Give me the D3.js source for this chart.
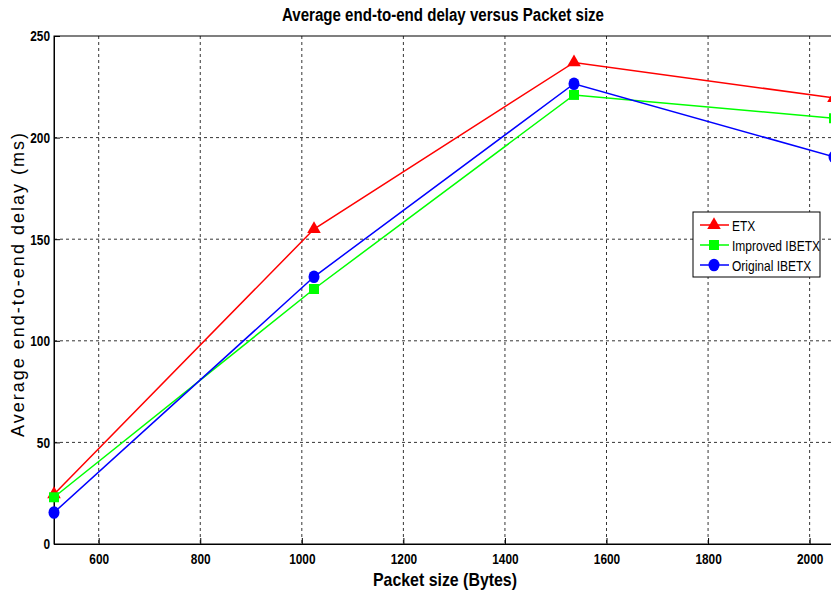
<!DOCTYPE html>
<html>
<head>
<meta charset="utf-8">
<script src="https://cdn.jsdelivr.net/npm/d3@7"></script>
<style>
  body { margin: 0; background: #fff; }
  text { font-family: "Liberation Sans", Arial, sans-serif; }
</style>
</head>
<body>
<svg id="chart" width="831" height="594"></svg>
<script>
var packetSizes = [512, 1024, 1536, 2048];
var etx = [24.5, 155, 237, 219.5];
var improvedIbetx = [23, 125.5, 221, 209.5];
var originalIbetx = [15.5, 131.5, 226.5, 190.5];
var xTicks = [600, 800, 1000, 1200, 1400, 1600, 1800, 2000];
var yTicks = [0, 50, 100, 150, 200, 250];

var series = [
    {name: "ETX", values: etx, color: "#ff0000", marker: "triangle"},
    {name: "Improved IBETX", values: improvedIbetx, color: "#00ff00", marker: "square"},
    {name: "Original IBETX", values: originalIbetx, color: "#0000ff", marker: "circle"}
];

var svg = d3.select("#chart");
var margin = {left: 54, top: 36, right: -3, bottom: 50};
var width = 831 - margin.left - margin.right,
    height = 594 - margin.top - margin.bottom;

var x = d3.scaleLinear().domain([512, 2048]).range([0, width]);
var y = d3.scaleLinear().domain([0, 250]).range([height, 0]);

// squeeze text to look like a condensed face
function narrow(sel, factor) {
    sel.each(function () {
        var len = this.getComputedTextLength();
        d3.select(this)
            .attr("textLength", len * factor)
            .attr("lengthAdjust", "spacingAndGlyphs");
    });
}

var g = svg.append("g")
    .attr("transform", "translate(" + margin.left + "," + margin.top + ")");

// grid
g.append("g").selectAll("line")
    .data(xTicks)
    .enter().append("line")
    .attr("x1", function (d) { return x(d); })
    .attr("x2", function (d) { return x(d); })
    .attr("y1", 0)
    .attr("y2", height)
    .attr("stroke", "#000")
    .attr("stroke-width", 0.8)
    .attr("stroke-dasharray", "3,3");

g.append("g").selectAll("line")
    .data(yTicks.slice(1, -1))
    .enter().append("line")
    .attr("x1", 0)
    .attr("x2", width)
    .attr("y1", function (d) { return y(d); })
    .attr("y2", function (d) { return y(d); })
    .attr("stroke", "#000")
    .attr("stroke-width", 0.8)
    .attr("stroke-dasharray", "3,3");

// box
g.append("rect")
    .attr("width", width)
    .attr("height", height)
    .attr("fill", "none")
    .attr("stroke", "#000")
    .attr("stroke-width", 1);

// axes
var xAxis = g.append("g")
    .attr("transform", "translate(0," + height + ")")
    .call(d3.axisBottom(x).tickValues(xTicks).tickFormat(d3.format("d")).tickSize(-6).tickPadding(9));
var yAxis = g.append("g")
    .call(d3.axisLeft(y).tickValues(yTicks).tickFormat(d3.format("d")).tickSize(-6).tickPadding(4));

[xAxis, yAxis].forEach(function (a) {
    a.select(".domain").attr("stroke", "#000");
    a.selectAll("text")
        .style("font-family", "Liberation Sans, Arial, sans-serif")
        .style("font-size", "15px")
        .style("font-weight", "bold")
        .attr("fill", "#000")
        .call(narrow, 0.79);
});

// lines
var line = d3.line()
    .x(function (d, i) { return x(packetSizes[i]); })
    .y(function (d) { return y(d); });

series.forEach(function (s) {
    g.append("path")
        .datum(s.values)
        .attr("fill", "none")
        .attr("stroke", s.color)
        .attr("stroke-width", 1.5)
        .attr("d", line);
});

var symbols = {
    triangle: d3.symbol().type(d3.symbolTriangle).size(80),
    square: d3.symbol().type(d3.symbolSquare).size(100),
    circle: d3.symbol().type(d3.symbolCircle).size(95)
};

series.forEach(function (s) {
    g.append("g").selectAll("path")
        .data(s.values)
        .enter().append("path")
        .attr("d", symbols[s.marker])
        .attr("transform", function (d, i) {
            var sy = s.marker === "circle" ? 1.15 : 1;
            return "translate(" + x(packetSizes[i]) + "," + y(d) + ") scale(1," + sy + ")";
        })
        .attr("fill", s.color);
});

// title and labels
svg.append("text")
    .attr("x", 443)
    .attr("y", 21)
    .attr("text-anchor", "middle")
    .style("font-size", "18px")
    .style("font-weight", "bold")
    .attr("textLength", 322)
    .attr("lengthAdjust", "spacingAndGlyphs")
    .text("Average end-to-end delay versus Packet size");

svg.append("text")
    .attr("x", 445)
    .attr("y", 586)
    .attr("text-anchor", "middle")
    .style("font-size", "19px")
    .style("font-weight", "bold")
    .attr("textLength", 144)
    .attr("lengthAdjust", "spacingAndGlyphs")
    .text("Packet size (Bytes)");

svg.append("text")
    .attr("transform", "translate(24,285) rotate(-90)")
    .attr("text-anchor", "middle")
    .style("font-size", "18px")
    .attr("textLength", 304)
    .attr("lengthAdjust", "spacing")
    .text("Average end-to-end delay (ms)");

// legend
var legend = svg.append("g").attr("transform", "translate(693,212)");
legend.append("rect")
    .attr("width", 127)
    .attr("height", 65)
    .attr("fill", "#fff")
    .attr("stroke", "#000")
    .attr("stroke-width", 1);

var entry = legend.selectAll("g.entry")
    .data(series)
    .enter().append("g")
    .attr("class", "entry")
    .attr("transform", function (d, i) { return "translate(0," + (13 + i * 20) + ")"; });

entry.append("line")
    .attr("x1", 7).attr("x2", 36)
    .attr("stroke", function (d) { return d.color; })
    .attr("stroke-width", 1.5);
entry.append("path")
    .attr("d", function (d) { return symbols[d.marker](); })
    .attr("transform", function (d) { return "translate(21,0) scale(1," + (d.marker === "circle" ? 1.15 : 1) + ")"; })
    .attr("fill", function (d) { return d.color; });
entry.append("text")
    .attr("x", 39)
    .attr("y", 5.5)
    .style("font-size", "15px")
    .text(function (d) { return d.name; })
    .call(narrow, 0.8);
</script>
</body>
</html>
